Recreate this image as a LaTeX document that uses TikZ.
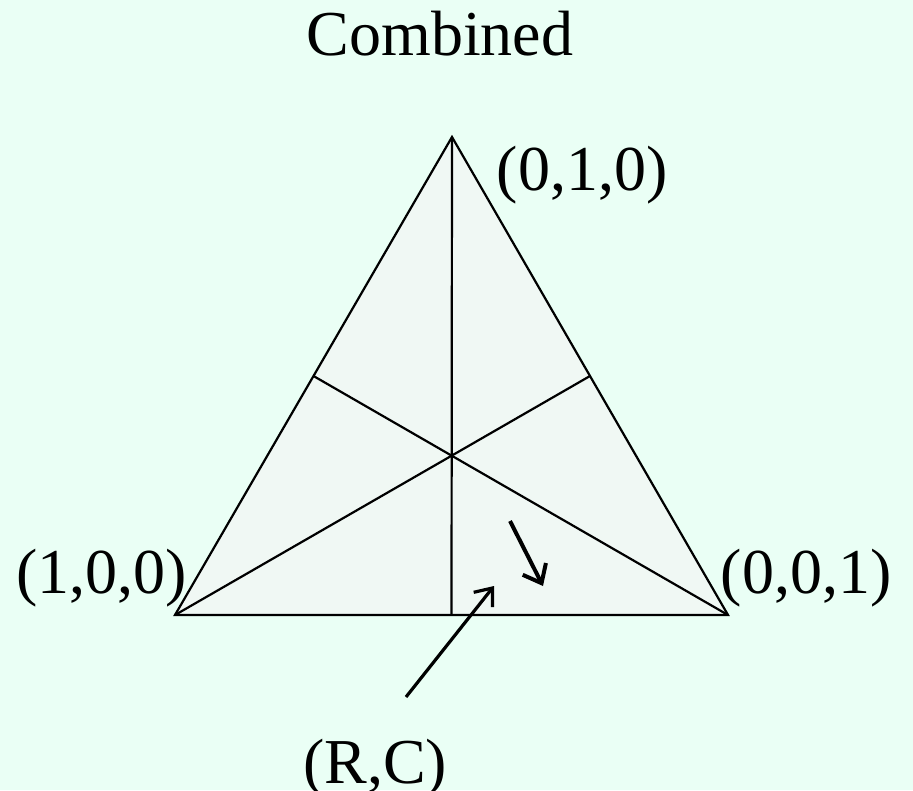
\documentclass[tikz,border=0pt]{standalone}
\usepackage{fontspec}
\setmainfont{Liberation Serif}
\usetikzlibrary{arrows.meta,calc}
\definecolor{bg}{RGB}{234,255,245}
\definecolor{tri}{RGB}{240,248,244}
\begin{document}
\begin{tikzpicture}[x=1pt,y=-1pt,
  lbl/.style={font=\fontsize{64}{70}\selectfont, inner sep=0pt, anchor=base},
  thin line/.style={line width=2.2pt},
  bigarrow/.style={line width=4pt, -{Straight Barb[length=16pt,width=26pt,line width=4pt]}},
  ptrarrow/.style={line width=3.2pt, -{Straight Barb[length=15pt,width=24pt,line width=3.2pt]}}]
\fill[bg] (0,0) rectangle (913,790);
\useasboundingbox (0,0) rectangle (913,790);
\coordinate (T) at (452,137);
\coordinate (L) at (175,615);
\coordinate (R) at (728,615);
\coordinate (ML) at ($(T)!0.5!(L)$);
\coordinate (MR) at ($(T)!0.5!(R)$);
\coordinate (MB) at ($(L)!0.5!(R)$);
\filldraw[fill=tri, thin line, line join=miter] (T) -- (L) -- (R) -- cycle;
\draw[thin line] (T) -- (MB);
\draw[thin line] (L) -- (MR);
\draw[thin line] (R) -- (ML);
\coordinate (a1s) at (510,521);
\coordinate (a1e) at (543,586);
\draw[bigarrow] (a1s) -- (a1e);
\coordinate (a2s) at (406,697);
\coordinate (a2e) at (494,586);
\draw[ptrarrow] (a2s) -- (a2e);
\node[lbl] (title) at (440,55) {Combined};
\node[lbl] (v010) at (582,190) {(0,1,0)};
\node[lbl] (v100) at (102,593) {(1,0,0)};
\node[lbl] (v001) at (806,593) {(0,0,1)};
\node[lbl] (rc) at (375,783) {(R,C)};
\end{tikzpicture}
\end{document}
